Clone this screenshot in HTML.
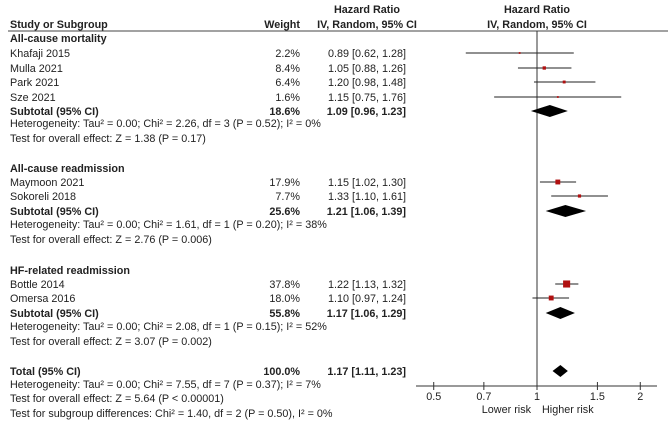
<!DOCTYPE html>
<html><head><meta charset="utf-8"><style>
html,body{margin:0;padding:0;background:#fff}
svg{display:block;font-family:"Liberation Sans",Arial,sans-serif;font-size:10.8px;fill:#222}
.b{font-weight:bold}
</style></head><body>
<svg id="c" width="669" height="431" viewBox="0 0 669 431"></svg>
<script>
const studies=["Khafaji 2015","Mulla 2021","Park 2021","Sze 2021","Maymoon 2021","Sokoreli 2018","Bottle 2014","Omersa 2016"];
const studyY=[53,68,82,97,182,196,284,298];
const weights=[2.2,8.4,6.4,1.6,17.9,7.7,37.8,18.0];
const hr=[0.89,1.05,1.20,1.15,1.15,1.33,1.22,1.10];
const lo=[0.62,0.88,0.98,0.75,1.02,1.10,1.13,0.97];
const hi=[1.28,1.26,1.48,1.76,1.30,1.61,1.32,1.24];
const subNames=["Subtotal (95% CI)","Subtotal (95% CI)","Subtotal (95% CI)","Total (95% CI)"];
const subY=[111,211,313,371];
const subW=["18.6%","25.6%","55.8%","100.0%"];
const subHr=[1.09,1.21,1.17,1.17];
const subLo=[0.96,1.06,1.06,1.11];
const subHi=[1.23,1.39,1.29,1.23];
const ticks=[0.5,0.7,1,1.5,2];
const tickLabels=["0.5","0.7","1","1.5","2"];
const svg=document.getElementById('c');
const NS="http://www.w3.org/2000/svg";
function xs(v){return 537+149*Math.log(v);}
function f2(v){return v.toFixed(2);}
function el(tag,attrs,txt){const e=document.createElementNS(NS,tag);for(const k in attrs)e.setAttribute(k,attrs[k]);if(txt!==undefined)e.textContent=txt;svg.appendChild(e);return e;}
function t(x,y,s,cls,anchor){return el('text',{x:x,y:y,class:cls||'','text-anchor':anchor||'start'},s);}
let e;
e=t(10,28,"Study or Subgroup","b");


e=t(300,28,"Weight","b","end");


e=t(367,13,"Hazard Ratio","b","middle");


e=t(367,28,"IV, Random, 95% CI","b","middle");


e=t(537,13,"Hazard Ratio","b","middle");


e=t(537,28,"IV, Random, 95% CI","b","middle");


e=el('line',{x1:8,y1:31,x2:668,y2:31,stroke:"#444","stroke-width":1});


const secs=[["All-cause mortality",42],["All-cause readmission",172],["HF-related readmission",274]];
secs.forEach(s=>{e=t(10,s[1],s[0],"b");

});
const notes=[["Heterogeneity: Tau² = 0.00; Chi² = 2.26, df = 3 (P = 0.52); I² = 0%",127],["Test for overall effect: Z = 1.38 (P = 0.17)",142],
["Heterogeneity: Tau² = 0.00; Chi² = 1.61, df = 1 (P = 0.20); I² = 38%",228],["Test for overall effect: Z = 2.76 (P = 0.006)",243],
["Heterogeneity: Tau² = 0.00; Chi² = 2.08, df = 1 (P = 0.15); I² = 52%",330],["Test for overall effect: Z = 3.07 (P = 0.002)",345],
["Heterogeneity: Tau² = 0.00; Chi² = 7.55, df = 7 (P = 0.37); I² = 7%",388],["Test for overall effect: Z = 5.64 (P < 0.00001)",402],
["Test for subgroup differences: Chi² = 1.40, df = 2 (P = 0.50), I² = 0%",417]];
notes.forEach(n=>{e=t(10,n[1],n[0]);

});
e=el('line',{x1:537,y1:31,x2:537,y2:386,stroke:"#333","stroke-width":1});


studies.forEach((s,i)=>{const y=studyY[i];
e=t(10,y+4,s);


e=t(300,y+4,weights[i].toFixed(1)+"%","","end");


e=t(406,y+4,f2(hr[i])+" ["+f2(lo[i])+", "+f2(hi[i])+"]","","end");


e=el('line',{x1:xs(lo[i]),y1:y,x2:xs(hi[i]),y2:y,stroke:"#222","stroke-width":1});


const sz=Math.max(1.8,1.15*Math.sqrt(weights[i]));
e=el('rect',{x:xs(hr[i])-sz/2,y:y-sz/2,width:sz,height:sz,fill:"#b01010"});


});
subNames.forEach((s,i)=>{const y=subY[i];
e=t(10,y+4,s,"b");


e=t(300,y+4,subW[i],"b","end");


e=t(406,y+4,f2(subHr[i])+" ["+f2(subLo[i])+", "+f2(subHi[i])+"]","b","end");


const a=xs(subLo[i]),m=xs(subHr[i]),b=xs(subHi[i]);
e=el('polygon',{points:`${a},${y} ${m},${y-6} ${b},${y} ${m},${y+6}`,fill:"#000"});


});
e=el('line',{x1:416,y1:386,x2:657,y2:386,stroke:"#333","stroke-width":1});


ticks.forEach((v,i)=>{
e=el('line',{x1:xs(v),y1:382,x2:xs(v),y2:390,stroke:"#333","stroke-width":1});


e=t(xs(v),400,tickLabels[i],"","middle");


});
e=t(531,413,"Lower risk","","end");


e=t(542,413,"Higher risk");


</script>
</body></html>
